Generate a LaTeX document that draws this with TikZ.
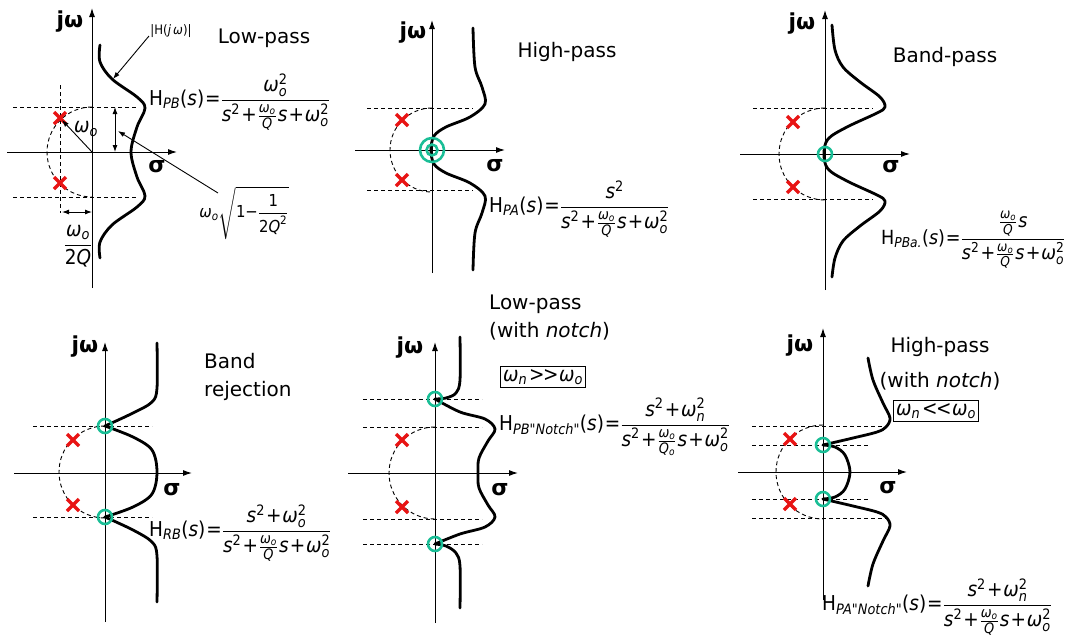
\documentclass[tikz,border=0pt]{standalone}
\usepackage{amsmath}
\usepackage{fontspec}
\setmainfont{DejaVu Sans}
\newfontfamily\fm{DejaVu Sans Condensed}
\usetikzlibrary{arrows.meta}
\definecolor{polered}{RGB}{232,20,20}
\definecolor{zerogreen}{RGB}{26,190,150}
\newcommand\om{\textit{ω}}
\newcommand\sub[1]{\textsubscript{\itshape #1}}
\newcommand\sq{\textsuperscript{2}}
\newcommand\pl{\kern1.2pt+\kern0.8pt}
\newcommand\wo[1]{$\text{\om}^{\text{2}}_{\text{\itshape #1}}$}
\newcommand\fr[2]{$\dfrac{\text{#1}}{\text{#2}}$}
\newcommand\sfr[2]{$\frac{\text{#1}}{\text{#2}}$}
\newcommand\pole[1]{\draw[polered,line width=3.4pt] (#1) ++(-6,-6) -- ++(12,12) (#1) ++(-6,6) -- ++(12,-12);}
\newcommand\parc[3]{\draw[guide] (#1,#2-#3) arc[start angle=-90, end angle=-270, radius=#3];}
\newcommand\zero[1]{\draw[zero] (#1) circle[radius=7];}
\newcommand\den[1]{\textit{s}\sq\pl\sfr{\om\sub{o}}{\itshape #1}\kern1pt\textit{s}\pl\wo{o}}
\tikzset{
 axis/.style={line width=1pt, -{Latex[length=9pt,width=6pt]}},
 resp/.style={line width=2.8pt, line join=round, line cap=round},
 guide/.style={line width=0.9pt, dash pattern=on 4pt off 3pt},
 zero/.style={draw=zerogreen, line width=2.6pt},
 lbl/.style={font=\fontsize{20}{28}\selectfont, inner sep=0pt},
 ax/.style={font=\bfseries\fontsize{22}{24}\selectfont, inner sep=0pt},
 frm/.style={font=\fm\fontsize{20.5}{24}\selectfont, inner sep=0pt},
 small/.style={font=\fm\fontsize{13}{15}\selectfont, inner sep=0pt},
 dim/.style={line width=0.9pt, {Latex[length=7pt,width=5pt]}-{Latex[length=7pt,width=5pt]}},
 ptr/.style={line width=0.9pt, -{Latex[length=7pt,width=5pt]}},
}
\begin{document}
\begin{tikzpicture}[x=1pt,y=-1pt]
\useasboundingbox (0,0) rectangle (1072,638);
% ================= Panel 1: Low-pass
\draw[guide] (13,107) -- (137,107) (13,197) -- (137,197) (60,85) -- (60,213);
\parc{92}{152}{45}
\draw[axis] (7,152) -- (177,152);
\draw[axis] (92,288) -- (92,8);
\draw[resp] plot[smooth,tension=0.55] coordinates {(100,45) (100,62) (112,79) (137,97) (145,108) (137,127) (131,152) (137,177) (145,196) (137,207) (112,225) (100,242) (100,258)};
\pole{60,118} \pole{60,183}
\draw[ptr] (92,152) -- (62,120);
\draw[dim] (115,107) -- (115,152);
\draw[dim] (62,212) -- (92,212);
\draw[ptr] (218,193) -- (118,131);
\draw[ptr] (149,36) -- (113,79);
\node[ax] (jw1) at (70,22) {jω};
\node[ax] (s1) at (157,167) {σ};
\node[small] (h1) at (171,31) {|H(\textit{j\,ω})|};
\node[lbl] (t1) at (264,38) {Low-pass};
\node[frm] (w1) at (86,129) {\om\sub{o}};
\node[frm] (q1) at (78,246) {$\dfrac{\text{\om}_{\text{\itshape o}}}{\text{2\itshape Q}}$};
\node[frm, font=\fm\fontsize{16.5}{20}\selectfont] (r1) at (244,213) {$\text{\om}_{\text{\itshape o}}\sqrt{\text{1−}\dfrac{\text{1}}{\text{2\itshape Q}^{\text{2}}}}$};
\node[frm, anchor=west] (f1) at (149,102) {H\sub{PB}(\textit{s})\kern1pt=\fr{\wo{o}}{\den{Q}}};
% ================= Panel 2: High-pass
\draw[guide] (367,108) -- (473,108) (367,190) -- (473,190);
\parc{432}{150}{42}
\draw[axis] (355,150) -- (505,150);
\draw[axis] (432,273) -- (432,20);
\draw[resp] plot[smooth,tension=0.55] coordinates {(473,28) (475,67) (482,87) (485,104) (470,117) (446,127) (434,136) (431,150) (434,164) (446,173) (470,183) (485,196) (482,213) (475,233) (473,270)};
\pole{402,120} \pole{402,180}
\draw[zero] (432,150) circle[radius=12];
\draw[zero] (432,150) circle[radius=5.5];
\node[ax] (jw2) at (413,33) {jω};
\node[ax] (s2) at (495,166) {σ};
\node[lbl] (t2) at (567,52) {High-pass};
\node[frm, anchor=west] (f2) at (489,209) {H\sub{PA}(\textit{s})\kern1pt=\fr{\textit{s}\sq}{\den{Q}}};
% ================= Panel 3: Band-pass
\draw[guide] (753,108) -- (873,108) (753,199) -- (873,199);
\parc{825}{154}{46}
\draw[axis] (740,154) -- (910,154);
\draw[axis] (825,290) -- (825,10);
\draw[resp] plot[smooth,tension=0.55] coordinates {(832,25) (835,50) (843,67) (860,82) (880,97) (885,107) (877,113) (847,127) (828,139) (824,154) (828,169) (847,181) (877,195) (885,201) (880,211) (860,226) (843,241) (835,258) (832,277)};
\pole{793,122} \pole{793,187}
\zero{825,154}
\node[ax] (jw3) at (802,24) {jω};
\node[ax] (s3) at (891,167) {σ};
\node[lbl] (t3) at (945,57) {Band-pass};
\node[frm, anchor=west, font=\fm\fontsize{19.5}{24}\selectfont] (f3) at (881,240) {H\sub{PBa.}(\textit{s})\kern1pt=\fr{\sfr{\om\sub{o}}{\itshape Q}\kern1pt\textit{s}}{\den{Q}}};
% ================= Panel 4: Band rejection
\draw[guide] (33,426) -- (152,426) (33,517) -- (152,517);
\parc{105}{472}{46}
\draw[axis] (14,473) -- (192,473);
\draw[axis] (105,622) -- (105,342);
\draw[resp] plot[smooth,tension=0.55] coordinates {(157,343) (157,388) (152,402) (133,413) (105,426)};
\draw[resp] plot[smooth,tension=0.55] coordinates {(105,426) (133,437) (152,450) (157,472) (152,494) (133,507) (105,517)};
\draw[resp] plot[smooth,tension=0.55] coordinates {(105,517) (133,530) (152,542) (157,556) (157,602)};
\pole{73,440} \pole{73,505}
\zero{105,426} \zero{105,517}
\node[ax] (jw4) at (85,347) {jω};
\node[ax] (s4) at (172,490) {σ};
\node[lbl, anchor=north west, align=left] (t4) at (204,353) {Band\\rejection};
\node[frm, anchor=west] (f4) at (149,533) {H\sub{RB}(\textit{s})\kern1pt=\fr{\textit{s}\sq\pl\wo{o}}{\den{Q}}};
% ================= Panel 5: Low-pass with notch
\draw[guide] (363,399) -- (482,399) (363,427) -- (482,427) (363,519) -- (482,519) (363,544) -- (482,544);
\parc{435}{473}{46}
\draw[axis] (348,473) -- (518,473);
\draw[axis] (435,623) -- (435,342);
\draw[resp] plot[smooth,tension=0.55] coordinates {(460,337) (460,380) (456,393) (446,398) (435,399)};
\draw[resp] plot[smooth,tension=0.55] coordinates {(435,399) (460,412) (485,419) (495,429) (488,441) (479,458) (478,473) (479,488) (488,505) (495,517) (485,527) (460,534) (435,544)};
\draw[resp] plot[smooth,tension=0.55] coordinates {(435,544) (446,546) (456,553) (460,566) (460,608)};
\pole{402,440} \pole{402,507}
\zero{435,399} \zero{435,544}
\node[ax] (jw5) at (410,348) {jω};
\node[ax] (s5) at (500,490) {σ};
\node[lbl, anchor=north west, align=left] (t5) at (489,295) {Low-pass\\(with \textit{notch})};
\node[frm, draw, line width=0.9pt, inner sep=3pt] (b5) at (543,377) {\om\sub{n}\kern2pt>\kern-1.5pt>\kern0.5pt\om\sub{o}};
\node[frm, anchor=west] (f5) at (499,427) {H\sub{PB"Notch"}(\textit{s})\kern1pt=\fr{\textit{s}\sq\pl\wo{n}}{\textit{s}\sq\pl\sfr{\om\sub{o}}{\itshape Q\sub{o}}\kern1pt\textit{s}\pl\wo{o}}};
% ================= Panel 6: High-pass with notch
\draw[guide] (752,426) -- (887,426) (752,445) -- (868,445) (752,499) -- (868,499) (752,518) -- (887,518);
\parc{823}{472}{47}
\draw[axis] (738,472) -- (907,472);
\draw[axis] (823,600) -- (823,328);
\draw[resp] plot[smooth,tension=0.55] coordinates {(868,358) (873,380) (883,403) (890,418) (886,427) (877,432) (853,438) (823,445)};
\draw[resp] plot[smooth,tension=0.55] coordinates {(823,445) (835,447) (845,455) (850,472) (845,489) (835,497) (823,499)};
\draw[resp] plot[smooth,tension=0.55] coordinates {(823,499) (853,506) (877,512) (886,517) (890,526) (883,541) (873,564) (868,586)};
\pole{790,439} \pole{790,504}
\zero{823,445} \zero{823,499}
\node[ax] (jw6) at (800,346) {jω};
\node[ax] (s6) at (888,488) {σ};
\node[lbl] (t6) at (940,347) {High-pass};
\node[lbl] (u6) at (940,381) {(with \textit{notch})};
\node[frm, draw, line width=0.9pt, inner sep=3pt] (b6) at (936,411) {\om\sub{n}\kern2pt<\kern-1.5pt<\kern0.5pt\om\sub{o}};
\node[frm, anchor=west] (f6) at (822,607) {H\sub{PA"Notch"}(\textit{s})\kern1pt=\fr{\textit{s}\sq\pl\wo{n}}{\den{Q}}};
\end{tikzpicture}
\end{document}
